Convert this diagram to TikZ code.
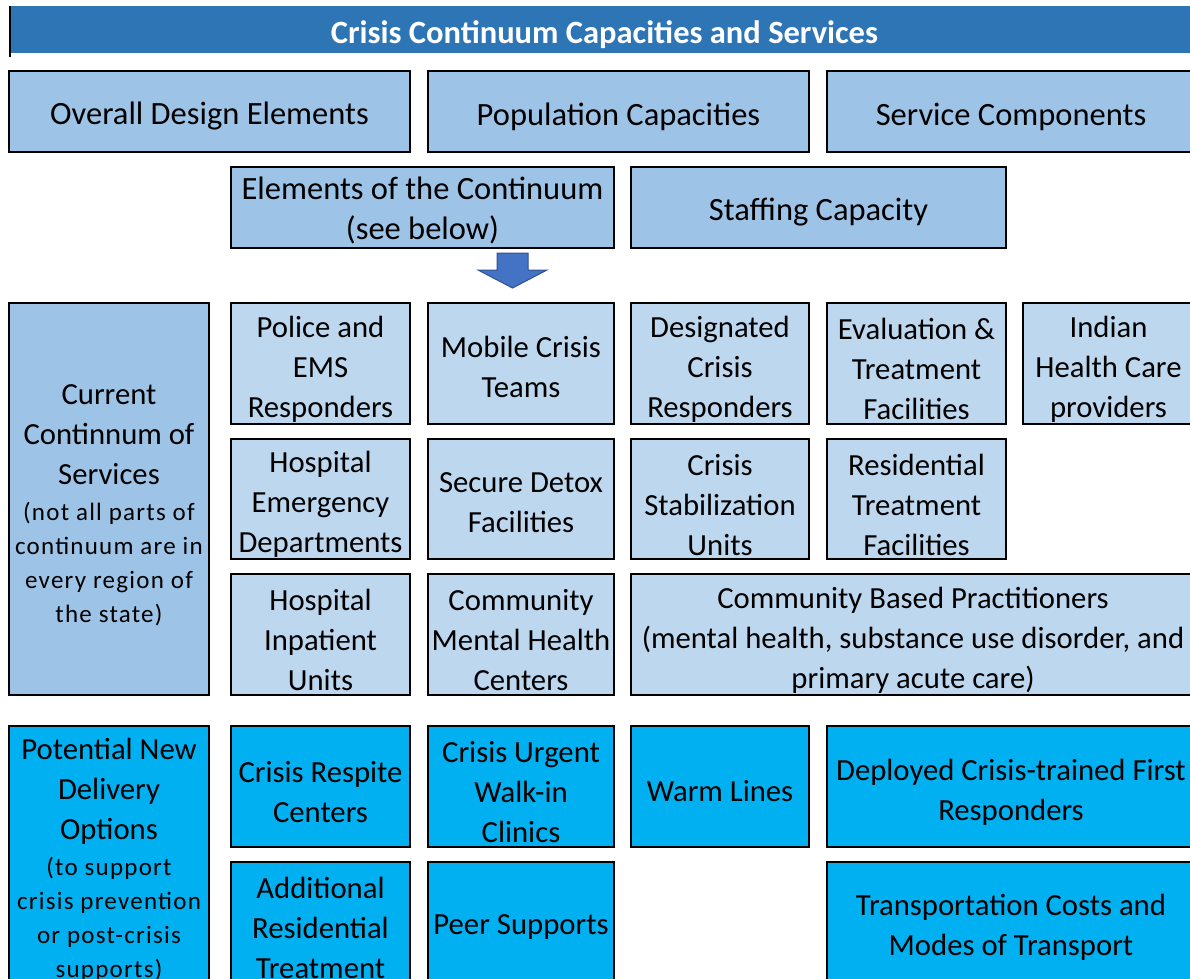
\documentclass[tikz,border=0pt]{standalone}
\usepackage{fontspec}
\setmainfont{Carlito}
\newfontfamily\smallf[LetterSpace=5]{Carlito}
\definecolor{barblue}{HTML}{2E75B6}
\definecolor{dkblue}{HTML}{9DC3E6}
\definecolor{ltblue}{HTML}{BDD7EE}
\definecolor{cyanbox}{HTML}{00B0F0}
\definecolor{arrowfill}{HTML}{4472C4}
\definecolor{arrowline}{HTML}{2F528F}
\newcommand{\mainsz}{\fontsize{30.7}{40}\selectfont}
\newcommand{\bigsz}{\fontsize{32.5}{40}\selectfont}
\newcommand{\smsz}{\smallf\fontsize{25}{34}\selectfont}
\newcommand{\lowerstrut}{\rule{0pt}{1.0em}}
\newcommand{\fs}{\rule{0pt}{1.05em}}
\newcommand{\fss}{\rule{0pt}{0.9em}}
\tikzset{
  box/.style={draw=black, line width=2.6pt, align=center, inner sep=0pt, font=\mainsz, text=black,
    execute at begin node=\lowerstrut},
  dkbox/.style={box, fill=dkblue},
  topbox/.style={box, fill=dkblue, font=\bigsz},
  ltbox/.style={box, fill=ltblue},
  cybox/.style={box, fill=cyanbox},
  titlebar/.style={fill=barblue, inner sep=0pt, text=white, font=\bfseries\fontsize{32.5}{36}\selectfont,
    execute at begin node=\lowerstrut},
  blockarrow/.style={fill=arrowfill, draw=arrowline, line width=1pt},
}
\begin{document}
\begin{tikzpicture}[x=1pt,y=-1pt]
\useasboundingbox (0,0) rectangle (1190,978);
\clip (0,0) rectangle (1190,978);
% title
\node[titlebar, minimum width=1191pt, minimum height=47pt] (title) at (604.5,29.5) {Crisis Continuum Capacities and Services};
\coordinate (tl) at (10,6);
\coordinate (bl) at (10,57);
\draw[line width=2.6pt] (tl) -- (bl);
% row 1
\node[topbox, minimum width=401pt, minimum height=81pt] (ode) at (209.5,111.5) {Overall Design Elements};
\node[topbox, minimum width=381pt, minimum height=81pt] (pop) at (618.5,111.5) {Population Capacities};
\node[topbox, minimum width=368pt, minimum height=81pt] (svc) at (1011,111.5) {Service Components};
% row 2
\node[topbox, minimum width=383pt, minimum height=81pt] (elem) at (422.5,207.5) {\fss Elements of the Continuum\\(see below)};
\node[topbox, minimum width=375pt, minimum height=81pt] (staff) at (818.5,207.5) {Staffing Capacity};
% block arrow
\draw[blockarrow] (497,253) -- (528,253) -- (528,270) -- (547,270) -- (512.5,288) -- (478,270) -- (497,270) -- cycle;
% current continuum
\node[dkbox, minimum width=200pt, minimum height=392pt] (cur) at (109,499) {\fs Current\\Continnum of\\Services\\[-4pt]{\smsz (not all parts of}\\[-6pt]{\smsz continuum are in}\\[-6pt]{\smsz every region of}\\[-6pt]{\smsz the state)}};
% row A
\node[ltbox, minimum width=179pt, minimum height=121pt] (police) at (320.5,363.5) {\fs Police and\\EMS\\Responders};
\node[ltbox, minimum width=186pt, minimum height=121pt] (mobile) at (521,363.5) {\fss Mobile Crisis\\Teams};
\node[ltbox, minimum width=178pt, minimum height=121pt] (dcr) at (720,363.5) {\fs Designated\\Crisis\\Responders};
\node[ltbox, minimum width=179pt, minimum height=121pt] (eval) at (916.5,363.5) {\fs Evaluation \&\\Treatment\\Facilities};
\node[ltbox, minimum width=171pt, minimum height=121pt] (indian) at (1108.5,363.5) {\fs Indian\\Health Care\\providers};
% row B
\node[ltbox, minimum width=179pt, minimum height=120pt] (hed) at (320.5,499) {\fs Hospital\\Emergency\\Departments};
\node[ltbox, minimum width=186pt, minimum height=120pt] (detox) at (521,499) {\fss Secure Detox\\Facilities};
\node[ltbox, minimum width=178pt, minimum height=120pt] (csu) at (720,499) {\fs Crisis\\Stabilization\\Units};
\node[ltbox, minimum width=179pt, minimum height=120pt] (rtf) at (916.5,499) {\fs Residential\\Treatment\\Facilities};
% row C
\node[ltbox, minimum width=179pt, minimum height=121pt] (hiu) at (320.5,634.5) {\fs Hospital\\Inpatient\\Units};
\node[ltbox, minimum width=186pt, minimum height=121pt] (cmhc) at (521,634.5) {\fs Community\\Mental Health\\Centers};
\node[ltbox, minimum width=564pt, minimum height=121pt] (cbp) at (913,634.5) {\fs Community Based Practitioners\\(mental health, substance use disorder, and\\primary acute care)};
% potential new
\node[cybox, minimum width=200pt, minimum height=256pt] (pot) at (109,854) {\fs Potential New\\Delivery\\Options\\[-4pt]{\smsz (to support}\\[-6pt]{\smsz crisis prevention}\\[-6pt]{\smsz or post-crisis}\\[-6pt]{\smsz supports)}};
% row D
\node[cybox, minimum width=179pt, minimum height=121pt] (respite) at (320.5,786.5) {\fs Crisis Respite\\Centers};
\node[cybox, minimum width=186pt, minimum height=121pt] (urgent) at (521,786.5) {\fs Crisis Urgent\\Walk-in\\Clinics};
\node[cybox, minimum width=178pt, minimum height=121pt] (warm) at (720,786.5) {Warm Lines};
\node[cybox, minimum width=368pt, minimum height=121pt] (deployed) at (1011,786.5) {\fs Deployed Crisis-trained First\\Responders};
% row E
\node[cybox, minimum width=179pt, minimum height=120pt] (addres) at (320.5,922) {\fs Additional\\Residential\\Treatment};
\node[cybox, minimum width=186pt, minimum height=120pt] (peer) at (521,922) {Peer Supports};
\node[cybox, minimum width=368pt, minimum height=120pt] (transport) at (1011,922) {\fs Transportation Costs and\\Modes of Transport};
\end{tikzpicture}
\end{document}
